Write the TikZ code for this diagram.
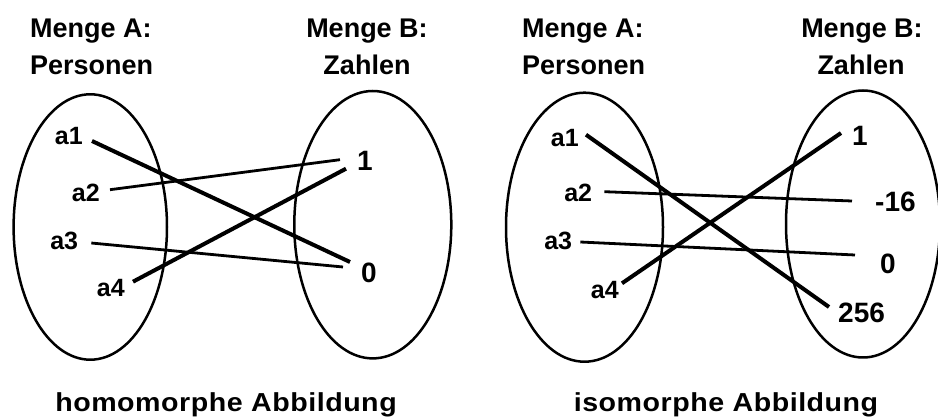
\documentclass[tikz,border=0pt]{standalone}
\usepackage{fontspec}
\setmainfont{Liberation Sans}
\newfontfamily\capfont[FakeStretch=1.1, LetterSpace=2]{Liberation Sans}
\usetikzlibrary{shapes.geometric}

\begin{document}
\begin{tikzpicture}[
    x=1pt, y=-1pt,
    set/.style={ellipse, draw, line width=2.5pt, inner sep=0pt},
    elem/.style={font=\bfseries\fontsize{25}{25}\selectfont, inner sep=0pt, anchor=base east},
    num/.style={font=\bfseries\fontsize{28}{28}\selectfont, inner sep=0pt, anchor=base west},
    head/.style={font=\bfseries\fontsize{27}{27}\selectfont, inner sep=0pt},
    caption/.style={font=\capfont\bfseries\fontsize{26}{26}\selectfont, inner sep=0pt, anchor=base},
    mapthick/.style={line width=4pt},
    mapthin/.style={line width=2.8pt}
]
\useasboundingbox (0,0) rectangle (938,419);

% homomorphe Abbildung
\node[head, anchor=base west] (headA1) at (30,38) {Menge A:};
    \node[head, anchor=base west] (nameA1) at (30,75) {Personen};
    \node[head, anchor=base] (headB1) at (367,38) {Menge B:};
    \node[head, anchor=base] (nameB1) at (367,75) {Zahlen};

\node[set, minimum width=153.4pt, minimum height=265.4pt] (setA1) at (90.3,227) {};
    \node[set, minimum width=157pt, minimum height=267.4pt] (setB1) at (372.8,224.7) {};

\node[elem] (ha1) at (83,145) {a1};
    \node[elem] (ha2) at (100,201.7) {a2};
    \node[elem] (ha3) at (78.3,250) {a3};
    \node[elem] (ha4) at (125,296.7) {a4};

\node[num] (h1) at (357,170.7) {1};
    \node[num] (h0) at (361,283) {0};

\draw[mapthick] ([shift={(9,-4)}]ha1.base east) -- ([shift={(-11,-21)}]h0.base west);
    \draw[mapthin] ([shift={(10,-12)}]ha2.base east) -- ([shift={(-17,-11)}]h1.base west);
    \draw[mapthin] ([shift={(13,-7)}]ha3.base east) -- ([shift={(-18,-16)}]h0.base west);
    \draw[mapthick] ([shift={(8,-15)}]ha4.base east) -- ([shift={(-11,-2)}]h1.base west);

\node[caption] (capH) at (226,411.7) {homomorphe Abbildung};

% isomorphe Abbildung
\node[head, anchor=base west] (headA2) at (522,38) {Menge A:};
    \node[head, anchor=base west] (nameA2) at (522,75) {Personen};
    \node[head, anchor=base] (headB2) at (862,38) {Menge B:};
    \node[head, anchor=base] (nameB2) at (861,75) {Zahlen};

\node[set, minimum width=157pt, minimum height=269pt] (setA2) at (584.5,227.2) {};
    \node[set, minimum width=154pt, minimum height=267pt] (setB2) at (863,224) {};

\node[elem] (ia1) at (579,146.7) {a1};
    \node[elem] (ia2) at (592.3,201.7) {a2};
    \node[elem] (ia3) at (572.3,250) {a3};
    \node[elem] (ia4) at (619,298.3) {a4};

\node[num] (i1) at (852,146) {1};
    \node[num] (im16) at (875,212) {-16};
    \node[num] (i0) at (880,274) {0};
    \node[num] (i256) at (838,323) {256};

\draw[mapthick] ([shift={(7,-12)}]ia1.base east) -- ([shift={(-9,-16)}]i256.base west);
    \draw[mapthin] ([shift={(12,-10)}]ia2.base east) -- ([shift={(-23,-11)}]im16.base west);
    \draw[mapthin] ([shift={(8,-8)}]ia3.base east) -- ([shift={(-25,-19)}]i0.base west);
    \draw[mapthick] ([shift={(3,-15)}]ia4.base east) -- ([shift={(-11,-13)}]i1.base west);

\node[caption] (capI) at (726,411.7) {isomorphe Abbildung};

\end{tikzpicture}
\end{document}
